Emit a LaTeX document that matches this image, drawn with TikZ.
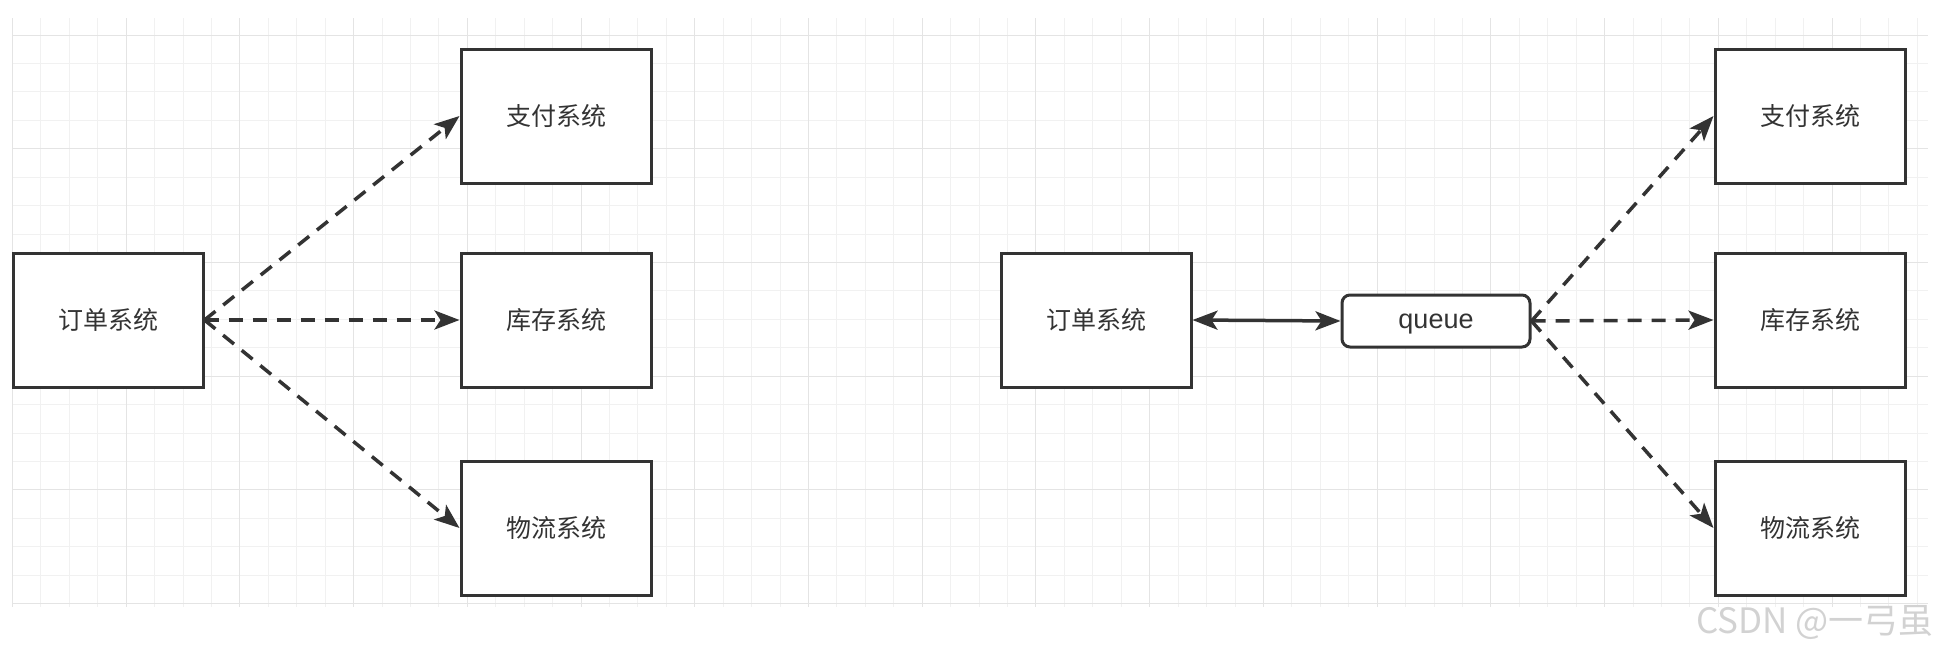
\documentclass[tikz,border=0pt]{standalone}
\usepackage{fontspec}
\setmainfont{Liberation Sans}
\newfontfamily\cjk{Noto Sans CJK SC}
\usetikzlibrary{arrows.meta}
\definecolor{linec}{HTML}{333333}
\definecolor{gridc}{HTML}{F1F1F1}
\definecolor{gridm}{HTML}{E4E4E4}
\definecolor{markc}{HTML}{D2D2D2}
\tikzset{
  ar/.style={-{Stealth[length=25pt,width=19pt,inset=6pt]},line width=3.5pt,linec,dash pattern=on 14pt off 10pt},
  ar2/.style={{Stealth[length=25pt,width=19pt,inset=6pt]}-{Stealth[length=25pt,width=19pt,inset=6pt]},line width=3.5pt,linec},
  box/.style={draw=linec,line width=3pt,fill=white,minimum width=190pt,minimum height=134pt,inner sep=0pt,text=linec,font=\cjk\fontsize{25}{28}\selectfont},
  qbox/.style={draw=linec,line width=3pt,fill=white,rounded corners=8pt,minimum width=188pt,minimum height=52pt,inner sep=0pt,text depth=0pt,text=linec,font=\fontsize{27}{30}\selectfont}
}
\begin{document}
\begin{tikzpicture}[x=1pt,y=-1pt]
\useasboundingbox (0,0) rectangle (1938,654);
% grid
\foreach \k in {0,...,67}{\draw[gridc,line width=1pt] ({12.5+28.43*\k},18)--({12.5+28.43*\k},607);}
\foreach \k in {0,...,20}{\draw[gridc,line width=1pt] (12,{35+28.43*\k})--(1928,{35+28.43*\k});}
\foreach \k in {0,4,...,64}{\draw[gridm,line width=1pt] ({12.5+28.43*\k},18)--({12.5+28.43*\k},607);}
\foreach \k in {0,4,...,20}{\draw[gridm,line width=1pt] (12,{35+28.43*\k})--(1928,{35+28.43*\k});}
% direct calls
\node[box] (order) at (108,320) {订单系统};
\node[box] (pay) at (556,116) {支付系统};
\node[box] (stock) at (556,320) {库存系统};
\node[box] (ship) at (556,528) {物流系统};
\draw[ar] (order.east)--(pay.west);
\draw[ar] (order.east)--(stock.west);
\draw[ar] (order.east)--(ship.west);
% via queue
\node[box] (order2) at (1096,320) {订单系统};
\node[qbox] (queue) at (1436,321) {queue};
\node[box] (pay2) at (1810,116) {支付系统};
\node[box] (stock2) at (1810,320) {库存系统};
\node[box] (ship2) at (1810,528) {物流系统};
\draw[ar2] (order2.east)--(queue.west);
\draw[ar] (queue.east)--(pay2.west);
\draw[ar] (queue.east)--(stock2.west);
\draw[ar] (queue.east)--(ship2.west);
\node[anchor=east,markc,inner sep=0pt,font=\cjk\fontsize{35}{38}\selectfont] (mark) at (1934,622) {CSDN @一弓虽};
\end{tikzpicture}
\end{document}
